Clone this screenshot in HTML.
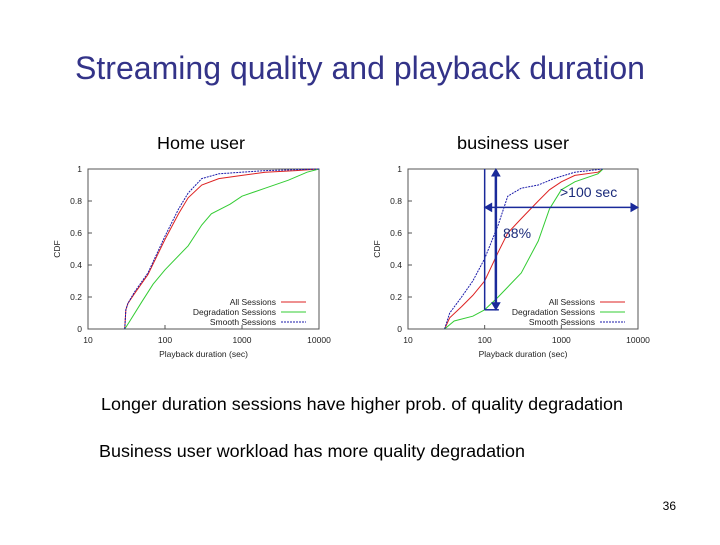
<!DOCTYPE html>
<html><head><meta charset="utf-8"><style>
body{margin:0;width:720px;height:540px;background:#fff;overflow:hidden;font-family:"Liberation Sans",sans-serif}
</style></head><body>
<svg width="720" height="540" xmlns="http://www.w3.org/2000/svg" font-family="Liberation Sans, sans-serif" id="svg">
<text x="360" y="79" text-anchor="middle" font-size="32" textLength="570" lengthAdjust="spacingAndGlyphs" fill="#333388">Streaming quality and playback duration</text>
<text x="157" y="149" font-size="17.5" textLength="88" lengthAdjust="spacingAndGlyphs">Home user</text>
<text x="457" y="149" font-size="17.5" textLength="112" lengthAdjust="spacingAndGlyphs">business user</text>
<text x="101" y="410" font-size="17.5" textLength="522" lengthAdjust="spacingAndGlyphs">Longer duration sessions have higher prob. of quality degradation</text>
<text x="99" y="457" font-size="17.5" textLength="426" lengthAdjust="spacingAndGlyphs">Business user workload has more quality degradation</text>
<text x="676" y="510" font-size="12" text-anchor="end">36</text>
<g id="c1"></g><g id="c2"></g>
</svg>
<script>
const xTicks=[10,100,1000,10000];
const yTicks=[0,0.2,0.4,0.6,0.8,1];
const seriesNames=["All Sessions","Degradation Sessions","Smooth Sessions"];
const homeAllX=[30,31,33,40,60,100,150,200,300,500,1000,2000,5000,10000];
const homeAllY=[0,0.12,0.16,0.22,0.34,0.56,0.72,0.82,0.9,0.94,0.96,0.98,0.99,1];
const homeDegX=[30,35,50,70,100,200,300,400,700,1000,2000,4000,7000,10000];
const homeDegY=[0,0.05,0.17,0.28,0.37,0.52,0.65,0.72,0.78,0.83,0.88,0.93,0.98,1];
const homeSmoX=[30,31,33,40,60,100,150,200,300,500,1000,2000,10000];
const homeSmoY=[0,0.12,0.16,0.23,0.35,0.58,0.75,0.85,0.94,0.97,0.98,0.99,1];
const bizAllX=[30,35,50,70,100,150,200,300,500,700,1000,1500,3000,3500];
const bizAllY=[0,0.07,0.14,0.21,0.3,0.48,0.6,0.69,0.8,0.87,0.92,0.96,0.98,1];
const bizDegX=[30,40,70,100,150,300,500,700,1000,1500,3000,3500];
const bizDegY=[0,0.05,0.08,0.12,0.2,0.35,0.55,0.75,0.87,0.92,0.97,1];
const bizSmoX=[30,35,50,70,100,150,200,300,500,800,1500,3500];
const bizSmoY=[0,0.1,0.2,0.3,0.44,0.65,0.83,0.88,0.9,0.94,0.98,1];
const colors=["#dd2222","#33cc33","#1a1aaa"];
const NS="http://www.w3.org/2000/svg";
function mk(t,a,p){const e=document.createElementNS(NS,t);for(const k in a)e.setAttribute(k,a[k]);p.appendChild(e);return e;}
function chart(g,x0,x1,y0,y1,series,prefix){
  const sx=v=>x0+(Math.log10(v)-1)/3*(x1-x0);
  const sy=v=>y1-v*(y1-y0);
  const fr=mk('rect',{x:x0,y:y0,width:x1-x0,height:y1-y0,fill:'none',stroke:'#555','stroke-width':1},g);
  
  
  xTicks.forEach(t=>{const x=sx(t);
    mk('line',{x1:x,x2:x,y1:y1,y2:y1-4,stroke:'#555'},g);
    const tx=mk('text',{x:x,y:y1+14,'font-size':8.5,'text-anchor':'middle',fill:'#222'},g);tx.textContent=t;
    
    
  });
  yTicks.forEach(t=>{const y=sy(t);
    mk('line',{x1:x0,x2:x0+4,y1:y,y2:y,stroke:'#555'},g);
    const tx=mk('text',{x:x0-6,y:y+3,'font-size':8.5,'text-anchor':'end',fill:'#222'},g);tx.textContent=t;
    
    
  });
  const xl=mk('text',{x:(x0+x1)/2,y:y1+28,'font-size':8.5,'text-anchor':'middle',fill:'#222'},g);xl.textContent='Playback duration (sec)';
  
  
  const yl=mk('text',{x:0,y:0,'font-size':8.5,'text-anchor':'middle',fill:'#222',transform:`translate(${x0-28},${(y0+y1)/2}) rotate(-90)`},g);yl.textContent='CDF';
  
  
  series.forEach((s,i)=>{
    const pts=s[0].map((v,j)=>sx(v)+','+sy(s[1][j])).join(' ');
    const pl=mk('polyline',{points:pts,fill:'none',stroke:colors[i],'stroke-width':1,'stroke-dasharray':i==2?'2,1':'none'},g);
    
    
    const ly=y1-27+i*10;
    const lt=mk('text',{x:x1-43,y:ly+3,'font-size':8.5,'text-anchor':'end',fill:'#222'},g);lt.textContent=seriesNames[i];
    
    
    mk('line',{x1:x1-38,x2:x1-13,y1:ly,y2:ly,stroke:colors[i],'stroke-width':1,'stroke-dasharray':i==2?'2,1':'none'},g);
  });
  return {sx,sy};
}
const c1=document.getElementById('c1'),c2=document.getElementById('c2');
chart(c1,88,319,169,329,[[homeAllX,homeAllY],[homeDegX,homeDegY],[homeSmoX,homeSmoY]],'home');
const b=chart(c2,408,638,169,329,[[bizAllX,bizAllY],[bizDegX,bizDegY],[bizSmoX,bizSmoY]],'business');
const ann=mk('g',{stroke:'#1a2a9a',fill:'#1a2a9a'},c2);


const xa=b.sx(100),ya=b.sy(0.12),xb=b.sx(140),yt=b.sy(1),yh=b.sy(0.76);
mk('line',{x1:xa,x2:xa,y1:yt,y2:ya,'stroke-width':1.5},ann);
mk('line',{x1:xa,x2:xb+3,y1:ya,y2:ya,'stroke-width':1.5},ann);
mk('line',{x1:xb,x2:xb,y1:yt+6,y2:ya-6,'stroke-width':2.5},ann);
mk('polygon',{points:`${xb-4},${yt+7} ${xb+4},${yt+7} ${xb},${yt}`},ann);
mk('polygon',{points:`${xb-4},${ya-7} ${xb+4},${ya-7} ${xb},${ya}`},ann);
mk('line',{x1:xa+5,x2:b.sx(10000)-5,y1:yh,y2:yh,'stroke-width':1.5},ann);
mk('polygon',{points:`${xa},${yh} ${xa+7},${yh-4} ${xa+7},${yh+4}`},ann);
mk('polygon',{points:`${b.sx(10000)},${yh} ${b.sx(10000)-7},${yh-4} ${b.sx(10000)-7},${yh+4}`},ann);
const t1=mk('text',{x:560,y:197,'font-size':14,fill:'#1a2a7a',stroke:'none'},c2);t1.textContent='>100 sec';


const t2=mk('text',{x:503,y:238,'font-size':14,fill:'#1a2a7a',stroke:'none'},c2);t2.textContent='88%';


</script>
</body></html>
